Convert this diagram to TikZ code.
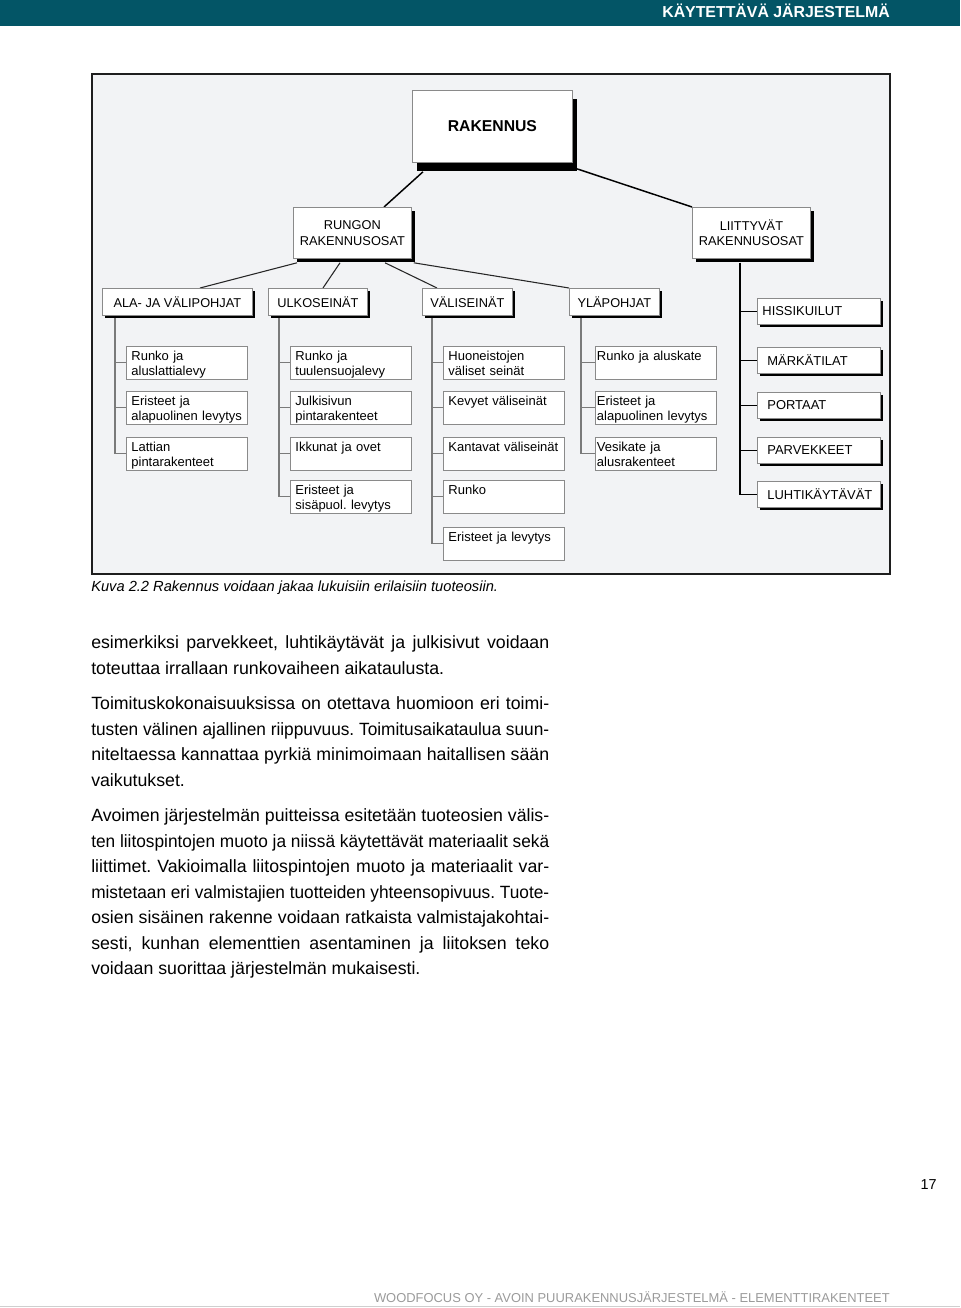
\documentclass[tikz,border=0pt]{standalone}
\usepackage{fontspec}
\usepackage{graphicx}
\setmainfont{Liberation Sans}
\usetikzlibrary{shadows,calc}
\definecolor{headteal}{HTML}{035566}
\definecolor{framefill}{HTML}{F2F3F5}
\definecolor{frameline}{HTML}{1E1E1E}
\definecolor{boxline}{HTML}{8A8A8A}
\definecolor{treeline}{HTML}{7A7A7A}
\definecolor{footgray}{HTML}{9A9A9A}
\definecolor{edgegray}{HTML}{CFCFCF}
\pgfdeclarelayer{framelayer}
\pgfdeclarelayer{linelayer}
\pgfsetlayers{framelayer,linelayer,main}
\frenchspacing
\newcommand\jl[1]{\sbox0{#1}\ifdim\wd0>\linewidth\resizebox{\linewidth}{\height}{#1}\else\makebox[\linewidth][s]{#1}\fi}
\newcommand\lf[2]{\strut#1\\\smash{#2}\rule[-0.5pt]{0pt}{0pt}}
\begin{document}
\frenchspacing
\begin{tikzpicture}[x=0.75pt,y=-0.75pt,
  shd/.style={drop shadow={shadow xshift=#1,shadow yshift=-#1,fill=black,opacity=1}},
  basebox/.style={draw=boxline,fill=white,line width=0.6pt,inner sep=0pt,anchor=north west},
  topbox/.style={basebox,minimum width=120pt,minimum height=54pt,
    drop shadow={shadow xshift=3.4pt,shadow yshift=-6.75pt,fill=black,opacity=1},
    font=\fontsize{11.8}{14}\selectfont\bfseries},
  midbox/.style={basebox,minimum width=88.5pt,minimum height=38.25pt,shd=3pt,align=center,
    font=\fontsize{9.6}{11.6}\selectfont},
  catbox/.style={basebox,minimum height=20.25pt,shd=2.25pt,font=\fontsize{9.6}{11.6}\selectfont},
  sidebox/.style={basebox,minimum width=92.25pt,minimum height=19.5pt,shd=2.25pt,
    inner xsep=7.5pt,text width=77.25pt,align=left,font=\fontsize{9.7}{11.6}\selectfont},
  leaf/.style={basebox,minimum width=90.75pt,minimum height=24.75pt,inner xsep=3.75pt,
    text width=83.25pt,align=left,font=\fontsize{9.75}{11.6}\selectfont},
  leafd/.style={leaf,inner xsep=1.1pt,text width=88.5pt},
  conn/.style={black,line width=1.1pt},
  subconn/.style={black!85,line width=0.8pt},
  tree/.style={treeline,line width=0.8pt},
  rtree/.style={black,line width=1pt},
  para/.style={anchor=base west,inner sep=0pt,font=\fontsize{13.3}{19.125}\selectfont}
]
\useasboundingbox (0,0) rectangle (960,1308);
% header
\fill[headteal] (0,0) rectangle (960,26.5);
\node[anchor=base east,text=white,inner sep=0pt,font=\fontsize{11.9}{14}\selectfont\bfseries] (head) at (890,17.7) {KÄYTETTÄVÄ JÄRJESTELMÄ};
% frame
\begin{pgfonlayer}{framelayer}
\draw[frameline,fill=framefill,line width=1.5pt] (92,74) rectangle (890,574);
\end{pgfonlayer}
% main nodes
\node[topbox] (rak) at (412,90) {RAKENNUS};
\node[midbox] (rung) at (293,207) {RUNGON\\RAKENNUSOSAT};
\node[midbox] (liit) at (692,207) {LIITTYVÄT\\RAKENNUSOSAT};
\node[catbox,minimum width=112.5pt] (ala) at (102,288) {ALA- JA VÄLIPOHJAT};
\node[catbox,minimum width=74.25pt] (ulko) at (268,288) {ULKOSEINÄT};
\node[catbox,minimum width=67.5pt] (vali) at (422,288) {VÄLISEINÄT};
\node[catbox,minimum width=67.5pt] (yla) at (569,288) {YLÄPOHJAT};
% side boxes
\node[sidebox,inner xsep=3.75pt,text width=84.75pt] (s1) at (757,298) {HISSIKUILUT};
\node[sidebox] (s2) at (757,347) {MÄRKÄTILAT};
\node[sidebox] (s3) at (757,392) {PORTAAT};
\node[sidebox] (s4) at (757,437) {PARVEKKEET};
\node[sidebox] (s5) at (757,481) {LUHTIKÄYTÄVÄT};
% leaves
\node[leaf] (a1) at (126,346) {\lf{Runko ja}{aluslattialevy}};
\node[leaf] (a2) at (126,391) {\lf{Eristeet ja}{alapuolinen levytys}};
\node[leaf] (a3) at (126,437) {\lf{Lattian}{pintarakenteet}};
\node[leaf] (b1) at (290,346) {\lf{Runko ja}{tuulensuojalevy}};
\node[leaf] (b2) at (290,391) {\lf{Julkisivun}{pintarakenteet}};
\node[leaf] (b3) at (290,437) {\lf{Ikkunat ja ovet}{}};
\node[leaf] (b4) at (290,480) {\lf{Eristeet ja}{sisäpuol. levytys}};
\node[leaf] (c1) at (443,346) {\lf{Huoneistojen}{väliset seinät}};
\node[leaf] (c2) at (443,391) {\lf{Kevyet väliseinät}{}};
\node[leaf] (c3) at (443,437) {\lf{Kantavat väliseinät}{}};
\node[leaf] (c4) at (443,480) {\lf{Runko}{}};
\node[leaf] (c5) at (443,527) {\lf{Eristeet ja levytys}{}};
\node[leafd] (d1) at (595,346) {\lf{Runko ja aluskate}{}};
\node[leafd] (d2) at (595,391) {\lf{Eristeet ja}{alapuolinen levytys}};
\node[leafd] (d3) at (595,437) {\lf{Vesikate ja}{alusrakenteet}};
% connectors
\coordinate (ta) at ($(ala.south west)+(13,0)$);
\coordinate (tb) at ($(ulko.south west)+(11,0)$);
\coordinate (tc) at ($(vali.south west)+(10,0)$);
\coordinate (td) at ($(yla.south west)+(12,0)$);
\coordinate (tr) at ($(liit.south west)+(48,4)$);
\begin{pgfonlayer}{linelayer}
\draw[conn] ($(rak.south west)+(11,9)$) -- ($(rung.north west)+(91,0)$);
\draw[conn] ($(rak.south east)+(4,6)$) -- (liit.north west);
\draw[subconn] ($(rung.south west)+(4,4)$) -- ($(ala.north west)+(98,0)$);
\draw[subconn] ($(rung.south west)+(47,4)$) -- ($(ulko.north west)+(55,0)$);
\draw[subconn] ($(rung.south west)+(92,4)$) -- ($(vali.north west)+(15,0)$);
\draw[subconn] ($(rung.south east)+(2,4)$) -- (yla.north west);
\draw[tree] (ta) |- (a1.west);
\draw[tree] (ta) |- (a2.west);
\draw[tree] (ta) |- (a3.west);
\draw[tree] (tb) |- (b1.west);
\draw[tree] (tb) |- (b2.west);
\draw[tree] (tb) |- (b3.west);
\draw[tree] (tb) |- (b4.west);
\draw[tree] (tc) |- (c1.west);
\draw[tree] (tc) |- (c2.west);
\draw[tree] (tc) |- (c3.west);
\draw[tree] (tc) |- (c4.west);
\draw[tree] (tc) |- (c5.west);
\draw[tree] (td) |- (d1.west);
\draw[tree] (td) |- (d2.west);
\draw[tree] (td) |- (d3.west);
\draw[rtree] (tr) |- (s1.west);
\draw[rtree] (tr) |- (s2.west);
\draw[rtree] (tr) |- (s3.west);
\draw[rtree] (tr) |- (s4.west);
\draw[rtree] (tr) |- (s5.west);
\end{pgfonlayer}
% caption
\node[anchor=base west,inner sep=0pt,font=\fontsize{11.0}{13}\selectfont\itshape] (cap) at (91,591) {Kuva 2.2 Rakennus voidaan jakaa lukuisiin erilaisiin tuoteosiin.};
% body text
\node[para] (p1) at (91,648.5) {\parbox[t]{343.5pt}{%
\jl{esimerkiksi parvekkeet, luhtikäytävät ja julkisivut voidaan}\\
toteuttaa irrallaan runkovaiheen aikataulusta.}};
\node[para] (p2) at (91,709.5) {\parbox[t]{343.5pt}{%
\jl{Toimituskokonaisuuksissa on otettava huomioon eri toimi-}\\
\jl{tusten välinen ajallinen riippuvuus. Toimitusaikataulua suun-}\\
\jl{niteltaessa kannattaa pyrkiä minimoimaan haitallisen sään}\\
vaikutukset.}};
\node[para] (p3) at (91,821.5) {\parbox[t]{343.5pt}{%
\jl{Avoimen järjestelmän puitteissa esitetään tuoteosien välis-}\\
\jl{ten liitospintojen muoto ja niissä käytettävät materiaalit sekä}\\
\jl{liittimet. Vakioimalla liitospintojen muoto ja materiaalit var-}\\
\jl{mistetaan eri valmistajien tuotteiden yhteensopivuus. Tuote-}\\
\jl{osien sisäinen rakenne voidaan ratkaista valmistajakohtai-}\\
\jl{sesti, kunhan elementtien asentaminen ja liitoksen teko}\\
voidaan suorittaa järjestelmän mukaisesti.}};
% page number and footer
\node[anchor=base east,inner sep=0pt,font=\fontsize{10.8}{13}\selectfont] (pnum) at (937,1189) {17};
\node[anchor=base east,inner sep=0pt,text=footgray,font=\fontsize{9.7}{12}\selectfont] (foot) at (890,1302) {WOODFOCUS OY - AVOIN PUURAKENNUSJÄRJESTELMÄ - ELEMENTTIRAKENTEET};
\draw[edgegray,line width=0.75pt] (0,1306.5) -- (960,1306.5);
\end{tikzpicture}
\end{document}
